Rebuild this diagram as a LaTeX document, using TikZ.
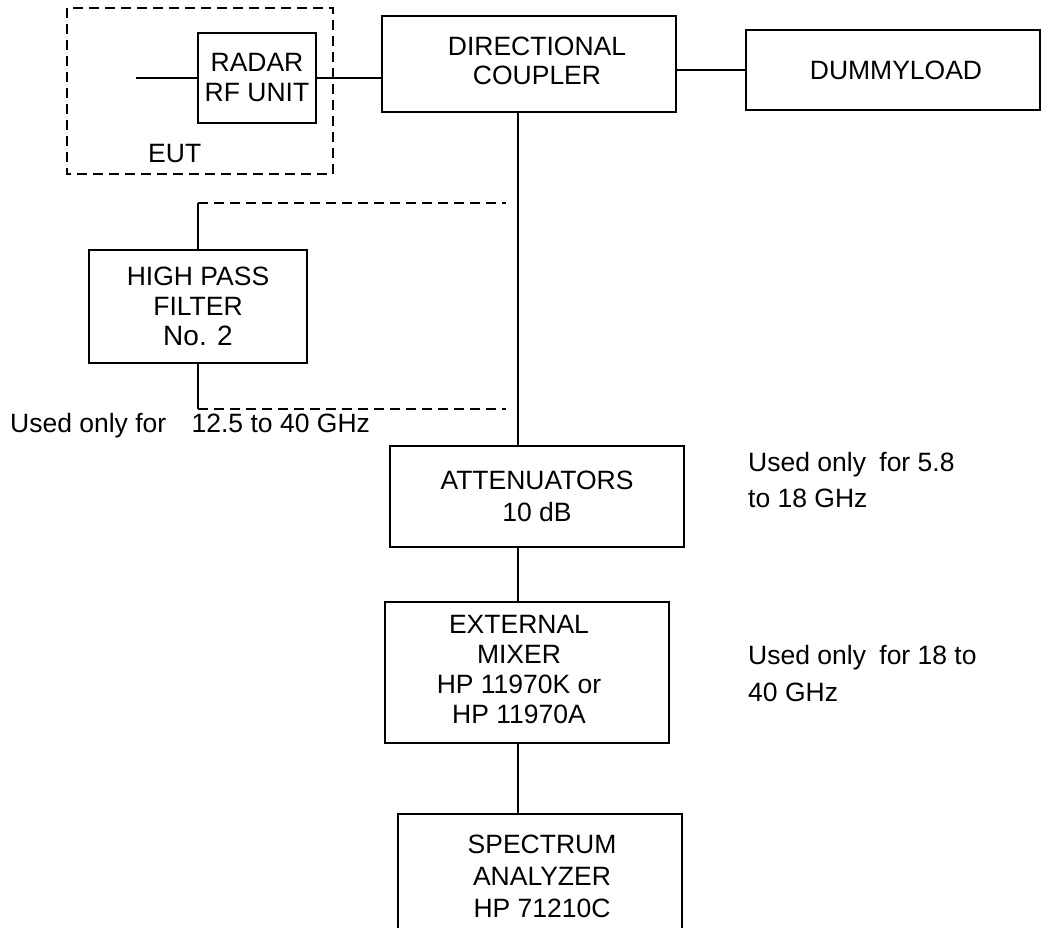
\documentclass[tikz,border=0pt]{standalone}
\usepackage{fontspec}
\setmainfont{Liberation Sans}
\begin{document}
\begin{tikzpicture}[x=1pt,y=-1pt,
  every node/.style={font=\fontsize{26.5}{31}\selectfont, inner sep=0pt},
  box/.style={draw, line width=2pt, rectangle, align=center},
  wire/.style={line width=2pt},
  dashwire/.style={line width=2pt, dash pattern=on 10pt off 6pt},
  note/.style={anchor=base west}]
\useasboundingbox (0,0) rectangle (1043,928);
\begin{scope}
\clip (0,0) rectangle (1043,928);
% EUT dashed enclosure
\draw[dashwire] (67,8) rectangle (333,174);
\node[note] (eut) at (148,163) {EUT};
% boxes
\node[box, minimum width=118pt, minimum height=90pt, font=\fontsize{26.5}{30}\selectfont] (radar) at (257,78) {RADAR\\RF UNIT};
\node[draw, line width=2pt, minimum width=294pt, minimum height=96pt] (dc) at (529,64)
  {\hspace*{16pt}{\renewcommand\arraystretch{1.0}\setlength\baselineskip{29pt}\begin{tabular}{@{}c@{}}DIRECTIONAL\\[-2pt]COUPLER\end{tabular}}};
\node[box, minimum width=294pt, minimum height=80pt] (dl) at (893,70) {\hspace*{6pt}DUMMYLOAD};
\node[box, minimum width=218pt, minimum height=113pt, font=\fontsize{26.5}{30}\selectfont] (hpf) at (198,306) {HIGH PASS\\FILTER\\{\fontsize{28}{30}\selectfont No. 2}};
\node[box, minimum width=294pt, minimum height=101pt, font=\fontsize{26.5}{32}\selectfont] (att) at (537,496) {ATTENUATORS\\10 dB};
\node[draw, line width=2pt, minimum width=284pt, minimum height=141pt] (mix) at (527,672)
  {\begin{tabular}{@{}c@{}}EXTERNAL\\[-1pt]MIXER\\[-1pt]HP 11970K or\\[-1pt]HP 11970A\end{tabular}\hspace*{16pt}};
\node[box, minimum width=284pt, minimum height=146pt] (sa) at (540,887) {};
\node[align=center, font=\fontsize{26.5}{32}\selectfont] (satext) at (542,876) {SPECTRUM\\ANALYZER\\HP 71210C};
% helper coordinates
\coordinate (stub) at (136,78);
\coordinate (vx) at (518,0);
\coordinate (hpfTop) at (198,203);
\coordinate (hpfBot) at (198,409);
\coordinate (dashR1) at (506,203);
\coordinate (dashR2) at (506,409);
% connectors
\draw[wire] (stub) -- (radar.west);
\draw[wire] (radar.east) -- (radar.east -| dc.west);
\draw[wire] (dl.west -| dc.east) -- (dl.west);
\draw[wire] (dc.south -| vx) -- (att.north -| vx);
\draw[wire] (att.south -| vx) -- (mix.north -| vx);
\draw[wire] (mix.south -| vx) -- (sa.north -| vx);
\draw[wire] (hpfTop) -- (hpf.north);
\draw[wire] (hpf.south) -- (hpfBot);
\draw[dashwire] (hpfTop) -- (dashR1);
\draw[dashwire] (hpfBot) -- (dashR2);
% notes
\node[note] (n0) at (10,432) {Used only for\hspace{18pt} 12.5 to 40 GHz};
\node[note] (n1a) at (748,471) {Used only\hspace{6pt} for 5.8};
\node[note] (n1b) at (748,507) {to 18 GHz};
\node[note] (n2a) at (748,664) {Used only\hspace{6pt} for 18 to};
\node[note] (n2b) at (748,701) {40 GHz};
\end{scope}
\end{tikzpicture}
\end{document}
